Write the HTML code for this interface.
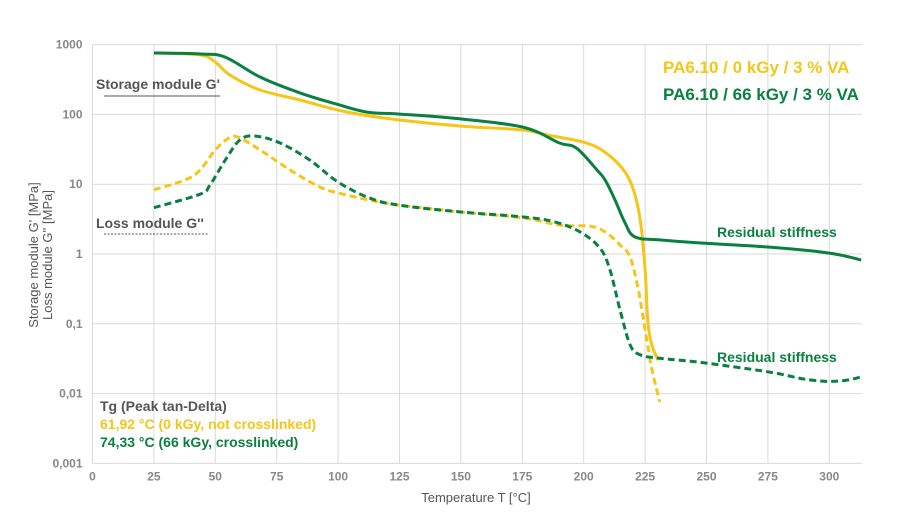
<!DOCTYPE html>
<html><head><meta charset="utf-8"><style>
body{margin:0;background:#fff;width:923px;height:515px;overflow:hidden;font-family:"Liberation Sans",Arial,sans-serif}
</style></head><body>
<svg id="chart" width="923" height="515" xmlns="http://www.w3.org/2000/svg" font-family="Liberation Sans, Arial, sans-serif">
<g id="grid"></g>
<g id="ticks"></g>
<g id="series"></g>
<text transform="translate(38,255) rotate(-90)" text-anchor="middle" font-size="13" fill="#555">Storage module G' [MPa]</text>
<text transform="translate(52,255) rotate(-90)" text-anchor="middle" font-size="13" fill="#555">Loss module G'' [MPa]</text>
<text x="476" y="502" text-anchor="middle" font-size="13" fill="#555">Temperature T [°C]</text>
<text x="663" y="73" font-size="17" font-weight="bold" fill="#f5c518">PA6.10 / 0 kGy / 3 % VA</text>
<text x="663" y="100" font-size="17" font-weight="bold" fill="#0a8040">PA6.10 / 66 kGy / 3 % VA</text>
<text x="96" y="89" font-size="14" font-weight="bold" fill="#555">Storage module G'</text>
<line x1="104" y1="96" x2="220" y2="96" stroke="#555" stroke-width="1"/>
<text x="96" y="228" font-size="14" font-weight="bold" fill="#555">Loss module G''</text>
<line x1="104" y1="234" x2="208" y2="234" stroke="#555" stroke-width="1" stroke-dasharray="2,1.5"/>
<text x="717" y="237" font-size="14" font-weight="bold" fill="#0a8040">Residual stiffness</text>
<text x="717" y="362" font-size="14" font-weight="bold" fill="#0a8040">Residual stiffness</text>
<text x="100" y="411" font-size="14" font-weight="bold" fill="#555">Tg (Peak tan-Delta)</text>
<text x="100" y="429" font-size="14" font-weight="bold" fill="#f5c518">61,92 °C (0 kGy, not crosslinked)</text>
<text x="100" y="447" font-size="14" font-weight="bold" fill="#0a8040">74,33 °C (66 kGy, crosslinked)</text>
</svg>
<script>
const xTicks=[0,25,50,75,100,125,150,175,200,225,250,275,300];
const yTicks=[1000,100,10,1,0.1,0.01,0.001];
const yTickLabels=["1000","100","10","1","0,1","0,01","0,001"];
const yellowGpT=[25,43.8,50,56,68.2,84.5,100,113,125,150,175,186,200,208.5,216.8,220.9,223.3,225,226.1,227.7,230.3];
const yellowGpV=[759,711,562,366,224,161,115,95,83,68,60,50,40,29,15,7,2.6,0.59,0.11,0.05,0.03];
const greenGpT=[25,43.8,54,68.2,84.5,99.5,111.8,125,145.6,175,190,197,205.4,208.7,212.8,216.8,220.9,231,247,275,300,313];
const greenGpV=[759,733,663,343,203,140,108,101,89,66,39,33,16,11.5,5.9,2.8,1.75,1.59,1.44,1.26,1.03,0.82];
const yellowGppT=[25,37.7,43.8,50,56,60,68.2,80.4,92.6,100,113,125,150,175,190,202.6,208.7,214.8,218.9,222.3,225,227.8,231];
const yellowGppV=[8.3,11.5,16,31,47,46,31,16,9.1,7.5,5.9,5.0,4.0,3.3,2.6,2.5,2.07,1.35,0.9,0.3,0.082,0.022,0.0076];
const greenGppT=[25,43.8,47.8,54,60,66,76.3,88.6,100,113,125,150,175,188,198.5,206.6,210.7,214.8,218.9,223,231,247.6,275,292,304,313];
const greenGppV=[4.6,7.2,9.7,22,43,49,39,22,10.7,6.3,5.0,4.0,3.4,2.9,2.07,1.22,0.59,0.158,0.05,0.036,0.032,0.028,0.0205,0.0157,0.0151,0.0173];
const X0=92.5,PX=2.456,XR=862,Y1=254,DEC=69.8;
const sx=t=>X0+t*PX;
const sy=v=>Y1-Math.log10(v)*DEC;
const NS="http://www.w3.org/2000/svg";
function mk(tag,attrs,parent){const e=document.createElementNS(NS,tag);for(const k in attrs)e.setAttribute(k,attrs[k]);parent.appendChild(e);return e;}
const grid=document.getElementById('grid'),ticks=document.getElementById('ticks'),series=document.getElementById('series');
xTicks.forEach(t=>{const l=mk('line',{x1:sx(t),x2:sx(t),y1:sy(1000),y2:sy(0.001),stroke:'#d9d9d9','stroke-width':1},grid);


const tx=mk('text',{x:sx(t),y:sy(0.001)+17,'text-anchor':'middle','font-size':12,'font-weight':'bold',fill:'#888'},ticks);tx.textContent=t;

});
yTicks.forEach((v,i)=>{const l=mk('line',{x1:X0,x2:XR,y1:sy(v),y2:sy(v),stroke:'#d9d9d9','stroke-width':1},grid);


const tx=mk('text',{x:X0-10,y:sy(v)+4,'text-anchor':'end','font-size':12,'font-weight':'bold',fill:'#888'},ticks);tx.textContent=yTickLabels[i];

});
function path(T,V){const P=T.map((t,i)=>[sx(t),sy(V[i])]);let d='M'+P[0][0].toFixed(1)+','+P[0][1].toFixed(1);const k=0.17;
for(let i=0;i<P.length-1;i++){const p0=P[Math.max(0,i-1)],p1=P[i],p2=P[i+1],p3=P[Math.min(P.length-1,i+2)];
const c1=[p1[0]+(p2[0]-p0[0])*k,p1[1]+(p2[1]-p0[1])*k],c2=[p2[0]-(p3[0]-p1[0])*k,p2[1]-(p3[1]-p1[1])*k];
d+='C'+c1[0].toFixed(1)+','+c1[1].toFixed(1)+' '+c2[0].toFixed(1)+','+c2[1].toFixed(1)+' '+p2[0].toFixed(1)+','+p2[1].toFixed(1);}
return d;}
const defs=[[yellowGpT,yellowGpV,'#f5c518',null,'yellow-storage-modulus'],[greenGpT,greenGpV,'#0a8040',null,'green-storage-modulus'],
[yellowGppT,yellowGppV,'#f5c518','7,4','yellow-loss-modulus'],[greenGppT,greenGppV,'#0a8040','7,4','green-loss-modulus']];
defs.forEach(s=>{const a={d:path(s[0],s[1]),fill:'none',stroke:s[2],'stroke-width':3,'stroke-linejoin':'round'};if(s[3])a['stroke-dasharray']=s[3];
const p=mk('path',a,series);

});
</script>
</body></html>
